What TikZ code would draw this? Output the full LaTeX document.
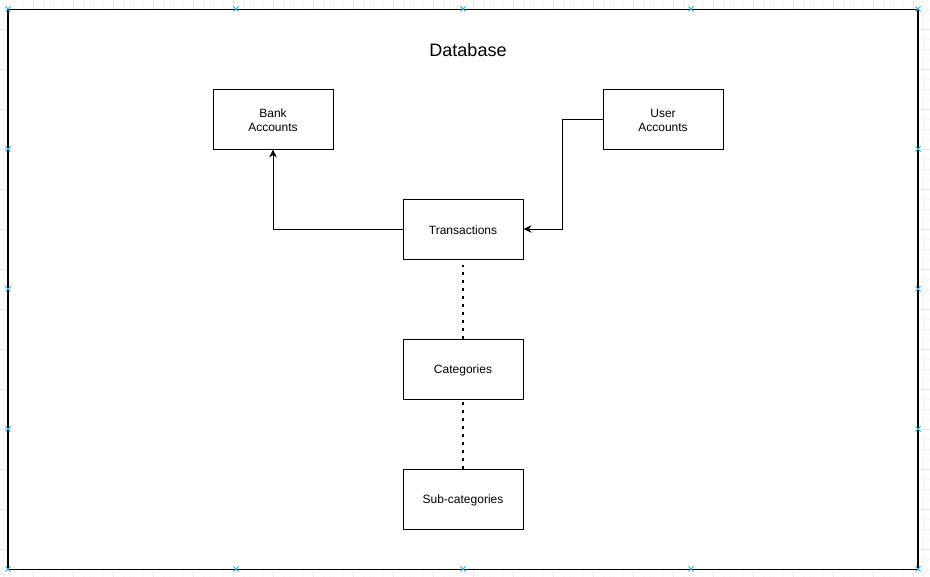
\documentclass[tikz,border=0pt]{standalone}
\usepackage{fontspec}
\setmainfont{Liberation Sans}
\usetikzlibrary{arrows.meta}
\definecolor{minorgrid}{RGB}{245,245,245}
\definecolor{majorgrid}{RGB}{230,230,230}
\definecolor{handle}{RGB}{41,170,235}
\tikzset{
  box/.style={draw, line width=0.9pt, minimum width=120pt, minimum height=60pt, align=center, inner sep=0pt, font=\fontsize{12}{14}\selectfont},
  conn/.style={line width=0.9pt, -{Stealth[length=8pt,width=7.5pt,inset=2.5pt]}},
  dotline/.style={line width=2pt, dash pattern=on 2.2pt off 5.8pt},
  handlemark/.style={handle, line width=0.9pt}
}
\begin{document}
\begin{tikzpicture}[x=1pt,y=-1pt]
\useasboundingbox (0,0) rectangle (930,577);
% background grid
\foreach \gx in {3,13,...,923} \draw[minorgrid, line width=0.8pt] (\gx,0) -- (\gx,577);
\foreach \gy in {9,19,...,569} \draw[minorgrid, line width=0.8pt] (0,\gy) -- (930,\gy);
\foreach \gx in {33,73,...,913} \draw[majorgrid, line width=0.8pt] (\gx,0) -- (\gx,577);
\foreach \gy in {29,69,...,569} \draw[majorgrid, line width=0.8pt] (0,\gy) -- (930,\gy);
% container
\node[draw, fill=white, line width=1.2pt, minimum width=910pt, minimum height=560pt, inner sep=0pt] (db) at (463,289.5) {};
\node[font=\fontsize{18}{21}\selectfont] (title) at (468,50) {Database};
% boxes
\node[box] (bank) at (273,119) {};
\node[box] (user) at (663,119) {};
\node[box] (trans) at (463,229) {};
\node[box] (cat) at (463,369) {};
\node[box] (sub) at (463,499) {};
\node[align=center, font=\fontsize{12}{14}\selectfont] (bankt) at (273,120) {Bank\\Accounts};
\node[align=center, font=\fontsize{12}{14}\selectfont] (usert) at (663,120) {User\\Accounts};
\node[font=\fontsize{12}{14}\selectfont] (transt) at (463,230) {Transactions};
\node[font=\fontsize{12}{14}\selectfont] (catt) at (463,370) {Categories};
\node[font=\fontsize{12}{14}\selectfont] (subt) at (463,500) {Sub-categories};
% connectors
\draw[conn] (trans.west) -| (bank.south);
\draw[conn] (user.west) -- ++(-40,0) |- (trans.east);
\draw[dotline] (cat.north) -- ([yshift=-6pt]trans.south);
\draw[dotline] (sub.north) -- ([yshift=-3pt]cat.south);
% selection handles
\foreach \hx in {8,236,463,691,918} {
  \draw[handlemark] (\hx-2.5,6.5) -- (\hx+2.5,11.5) (\hx-2.5,11.5) -- (\hx+2.5,6.5);
  \draw[handlemark] (\hx-2.5,566.5) -- (\hx+2.5,571.5) (\hx-2.5,571.5) -- (\hx+2.5,566.5);
}
\foreach \hy in {149,289,429} {
  \draw[handlemark] (5.5,\hy-2.5) -- (10.5,\hy+2.5) (5.5,\hy+2.5) -- (10.5,\hy-2.5);
  \draw[handlemark] (915.5,\hy-2.5) -- (920.5,\hy+2.5) (915.5,\hy+2.5) -- (920.5,\hy-2.5);
}
\end{tikzpicture}
\end{document}
